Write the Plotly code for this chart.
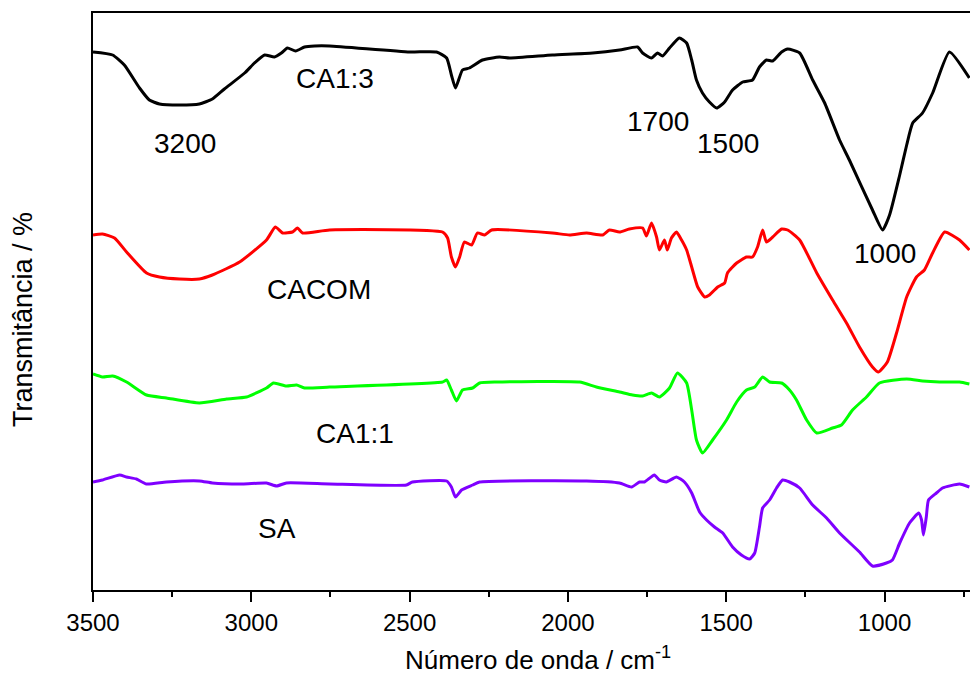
import plotly.graph_objects as go

# ---- data (wavenumber in cm^-1, transmittance in arbitrary offset units) ----
ca13_wn = [3500, 3438, 3401, 3353, 3322, 3290, 3227, 3164, 3123, 3085, 3021, 2990, 2958, 2927, 2905, 2886,
           2860, 2832, 2800, 2753, 2500, 2415, 2383, 2368, 2355, 2333, 2311, 2270, 2216, 2184, 2049, 1922,
           1837, 1780, 1764, 1736, 1717, 1701, 1679, 1648, 1625, 1609, 1594, 1575, 1553, 1530, 1505, 1480,
           1448, 1417, 1395, 1373, 1353, 1325, 1306, 1268, 1227, 1189, 1142, 1111, 1038, 1006, 984, 952,
           930, 911, 880, 848, 795, 732]
ca13_t = [538, 535, 525, 502, 490, 486, 485, 486, 491, 501, 517, 527, 535, 533, 537, 542,
          539, 543, 544, 544, 538, 538, 532, 515, 502, 520, 522, 530, 533, 532, 535, 537,
          540, 543, 537, 532, 537, 534, 542, 552, 547, 530, 510, 497, 488, 482, 488, 500,
          508, 510, 523, 530, 529, 538, 541, 537, 510, 487, 450, 430, 380, 360, 375, 415,
          445, 467, 477, 497, 538, 512]

cacom_wn = [3500, 3470, 3432, 3394, 3331, 3290, 3227, 3164, 3123, 3037, 2952, 2924, 2901, 2870, 2854, 2838,
            2753, 2396, 2380, 2368, 2355, 2342, 2327, 2304, 2286, 2263, 2241, 2049, 1995, 1941, 1890, 1869,
            1837, 1806, 1764, 1752, 1736, 1720, 1711, 1695, 1686, 1673, 1657, 1641, 1625, 1609, 1590, 1568,
            1553, 1527, 1505, 1496, 1467, 1436, 1417, 1401, 1385, 1373, 1353, 1325, 1306, 1268, 1214, 1164,
            1120, 1079, 1038, 1019, 991, 962, 930, 899, 874, 848, 810, 763, 732]
cacom_t = [355, 356, 352, 338, 317, 313, 311, 311, 315, 328, 350, 363, 357, 358, 362, 357,
           360, 358, 352, 333, 323, 333, 348, 345, 357, 355, 360, 357, 355, 357, 355, 360,
           358, 361, 362, 354, 367, 353, 340, 350, 340, 352, 358, 350, 340, 323, 303, 293,
           295, 303, 307, 317, 327, 333, 333, 343, 360, 348, 353, 361, 360, 350, 317, 290,
           267, 243, 223, 218, 228, 257, 293, 313, 320, 337, 358, 350, 340]

ca11_wn = [3500, 3470, 3438, 3394, 3331, 3268, 3164, 3078, 3015, 2952, 2930, 2889, 2857, 2832, 2753, 2396,
           2383, 2368, 2352, 2333, 2301, 2279, 2226, 1963, 1910, 1837, 1796, 1764, 1736, 1711, 1679, 1654,
           1625, 1609, 1594, 1575, 1543, 1499, 1467, 1436, 1410, 1385, 1363, 1325, 1300, 1278, 1246, 1214,
           1164, 1136, 1101, 1057, 1016, 930, 880, 826, 763, 732]
ca11_t = [216, 213, 214, 208, 195, 192, 187, 191, 193, 202, 207, 204, 205, 202, 203, 208,
          210, 200, 189, 200, 202, 207, 208, 208, 203, 198, 195, 194, 197, 193, 202, 217,
          207, 180, 150, 137, 150, 170, 188, 200, 203, 213, 208, 207, 200, 190, 170, 157,
          162, 165, 180, 193, 207, 211, 209, 208, 208, 206]

sa_wn = [3500, 3470, 3416, 3394, 3363, 3331, 3268, 3164, 3123, 3028, 2952, 2920, 2889, 2753, 2510, 2491,
         2383, 2368, 2355, 2336, 2301, 2279, 1941, 1837, 1799, 1774, 1758, 1727, 1711, 1689, 1657, 1632,
         1609, 1584, 1562, 1537, 1511, 1480, 1452, 1426, 1410, 1395, 1385, 1363, 1341, 1322, 1300, 1268,
         1227, 1183, 1142, 1079, 1038, 994, 975, 952, 921, 892, 883, 877, 868, 861, 836, 817, 763, 732]
sa_t = [108, 110, 115, 113, 111, 106, 108, 109, 107, 106, 107, 104, 107, 106, 105, 108,
        109, 103, 93, 100, 105, 108, 109, 107, 103, 108, 108, 115, 110, 108, 113, 108,
        97, 78, 70, 63, 57, 43, 35, 31, 37, 63, 82, 90, 102, 110, 108, 102,
        85, 72, 57, 38, 24, 27, 30, 47, 67, 77, 70, 55, 73, 90, 97, 102, 106, 103]

series_names = ["CA1:3", "CACOM", "CA1:1", "SA"]
series_colors = ["#000000", "#ff0000", "#00ff00", "#7f00ff"]

# band / sample labels: (text, wavenumber, transmittance)
label_text = ["CA1:3", "3200", "1700", "1500", "1000", "CACOM", "CA1:1", "SA"]
label_wn = [2735, 3208, 1715, 1494, 1000, 2785, 2671, 2920]
label_t = [512, 447, 469, 447, 337, 301, 157, 62]

x_ticks = [3500, 3000, 2500, 2000, 1500, 1000]

FONT = "Liberation Sans, Arial, sans-serif"

fig = go.Figure()
for name, color, xs, ys in zip(series_names, series_colors,
                               [ca13_wn, cacom_wn, ca11_wn, sa_wn],
                               [ca13_t, cacom_t, ca11_t, sa_t]):
    fig.add_trace(go.Scatter(x=xs, y=ys, mode="lines", name=name,
                             line=dict(color=color, width=3, shape="spline", smoothing=0.5)))

for t, xw, yv in zip(label_text, label_wn, label_t):
    fig.add_annotation(x=xw, y=yv, text=t, showarrow=False, xanchor="center", yanchor="middle",
                       font=dict(family=FONT, size=28, color="#000000"))

# axis titles
fig.add_annotation(xref="paper", yref="paper", x=0.507, y=-0.118, showarrow=False,
                   text="Número de onda / cm<sup>-1</sup>", xanchor="center", yanchor="middle",
                   font=dict(family=FONT, size=26, color="#000000"))
fig.add_annotation(xref="paper", yref="paper", x=-0.079, y=0.469, showarrow=False,
                   text="Transmitância / %", textangle=-90, xanchor="center", yanchor="middle",
                   font=dict(family=FONT, size=27, color="#000000"))

fig.update_layout(
    width=970, height=677,
    margin=dict(l=93, r=0, t=13, b=87),
    paper_bgcolor="white", plot_bgcolor="white",
    showlegend=False,
    font=dict(family=FONT, color="#000000"),
)
fig.update_xaxes(range=[3500, 730], tickvals=x_ticks, ticktext=[str(v) for v in x_ticks],
                 ticks="outside", ticklen=10, tickwidth=2, tickcolor="#000000",
                 minor=dict(dtick=250, tick0=0, ticks="outside", ticklen=5, tickwidth=2, tickcolor="#000000"),
                 showline=True, linecolor="#000000", linewidth=2, mirror=True,
                 showgrid=False, zeroline=False,
                 tickfont=dict(family=FONT, size=24, color="#000000"))
fig.update_yaxes(range=[0, 577], showticklabels=False, ticks="",
                 showline=True, linecolor="#000000", linewidth=2, mirror=False,
                 showgrid=False, zeroline=False)

fig.write_html("out.html")
